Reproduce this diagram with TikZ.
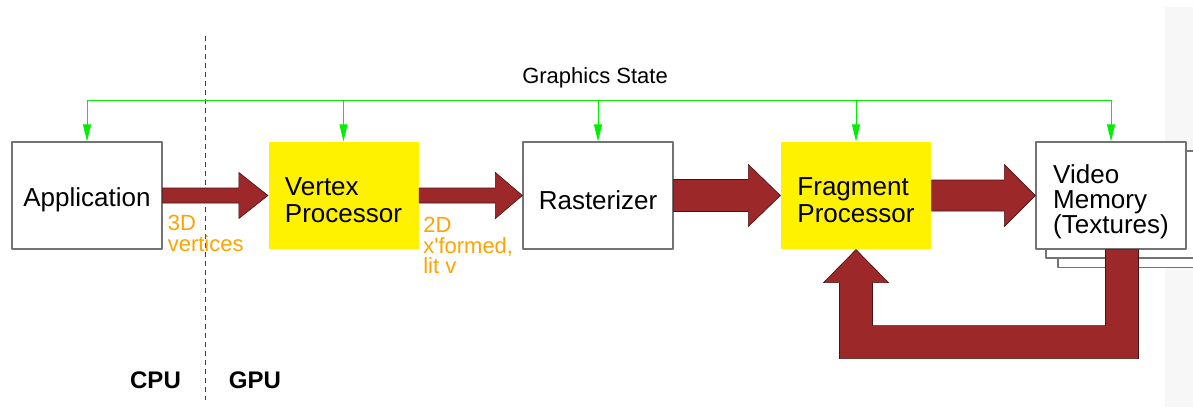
\documentclass[tikz,border=0pt]{standalone}
\usepackage{fontspec}
\setmainfont{Liberation Sans}
\usetikzlibrary{calc,arrows.meta}
\definecolor{fatred}{RGB}{157,40,42}
\definecolor{noteorange}{RGB}{255,163,0}
\definecolor{stategreen}{RGB}{0,240,0}
\begin{document}
\begin{tikzpicture}[x=1pt,y=-1pt,line join=round,
		stage/.style={draw=black!55,line width=1.2pt,fill=white,minimum width=150pt,minimum height=107pt,inner sep=0pt},
		proc/.style={stage,draw=none,fill=yellow},
		boxtext/.style={align=left,yshift=-4.5pt,inner sep=0pt,font=\fontsize{26}{27}\selectfont},
		fat/.style={fill=fatred,draw=black!55!fatred,line width=0.6pt,line join=miter},
		state/.style={draw=stategreen,line width=0.9pt},
		note/.style={text=noteorange,align=left,anchor=north west,inner sep=0pt,font=\fontsize{22}{20.5}\selectfont},
		side/.style={anchor=base,inner sep=0pt,font=\fontsize{24}{26}\bfseries}]
	\useasboundingbox (0,0) rectangle (1193,407);
	\fill[black!3] (1165,7) rectangle (1193,407);
	\draw[black!75,line width=0.8pt,dash pattern=on 5pt off 4pt] (205,36) -- (205,400);
	\node[stage,label={[boxtext]center:Application}] (app) at (87,195.5) {};
	\node[proc,label={[boxtext]center:Vertex\\Processor}] (vtx) at (343.5,195.5) {};
	\node[stage,label={[boxtext]center:Rasterizer}] (rast) at (598,195.5) {};
	\node[proc,label={[boxtext]center:Fragment\\Processor}] (frag) at (856,195.5) {};
	\node[stage] (page2) at (1133,214) {};
	\node[stage] (page1) at (1121,204.5) {};
	\node[stage,label={[boxtext,yshift=-1.5pt,font=\fontsize{26}{25}\selectfont]center:Video\\Memory\\(Textures)}] (vmem) at (1111,195.5) {};
	% graphics state bus
	\node[anchor=base,inner sep=0pt,font=\fontsize{22}{24}\selectfont] (gstate) at (595,83) {Graphics State};
	\coordinate (bus) at (0,100);
	\draw[state] (app.north |- bus) -- (vmem.north |- bus);
	\foreach \n in {app,vtx,rast,frag,vmem}{
		\draw[state,-{Triangle[length=17pt,width=8pt]}] (\n.north |- bus) -- (\n.north);
	}
	% data flow
	\foreach \a/\b/\s/\h/\l in {app/vtx/7.5/23/29,vtx/rast/7.5/23/27,rast/frag/16/31/32,frag/vmem/15.5/31/31}{
		\draw[fat] ($(\a.east)+(0,-\s)$) -- ($(\b.west)+(-\l,-\s)$) -- ($(\b.west)+(-\l,-\h)$) -- (\b.west)
			-- ($(\b.west)+(-\l,\h)$) -- ($(\b.west)+(-\l,\s)$) -- ($(\a.east)+(0,\s)$) -- cycle;
	}
	\draw[fat] ($(vmem.south)+(-5.5,0)$) |- ($(frag.south)+(16.5,76)$) -- ($(frag.south)+(16.5,33)$)
		-- ($(frag.south)+(32.5,33)$) -- (frag.south) -- ($(frag.south)+(-32.5,33)$) -- ($(frag.south)+(-16.5,33)$)
		-- ($(frag.south)+(-16.5,109)$) -| ($(vmem.south)+(27.5,0)$) -- cycle;
	\node[note] (lbl3d) at ($(app.east)+(5,19.5)$) {3D\\vertices};
	\node[note] (lbl2d) at ($(vtx.east)+(4,21.5)$) {2D\\x\textquotesingle formed,\\lit v};
	\path
	node[side] (cpu) at (155.5,388) {CPU}
	node[side] (gpu) at (255,388) {GPU};
\end{tikzpicture}
\end{document}
